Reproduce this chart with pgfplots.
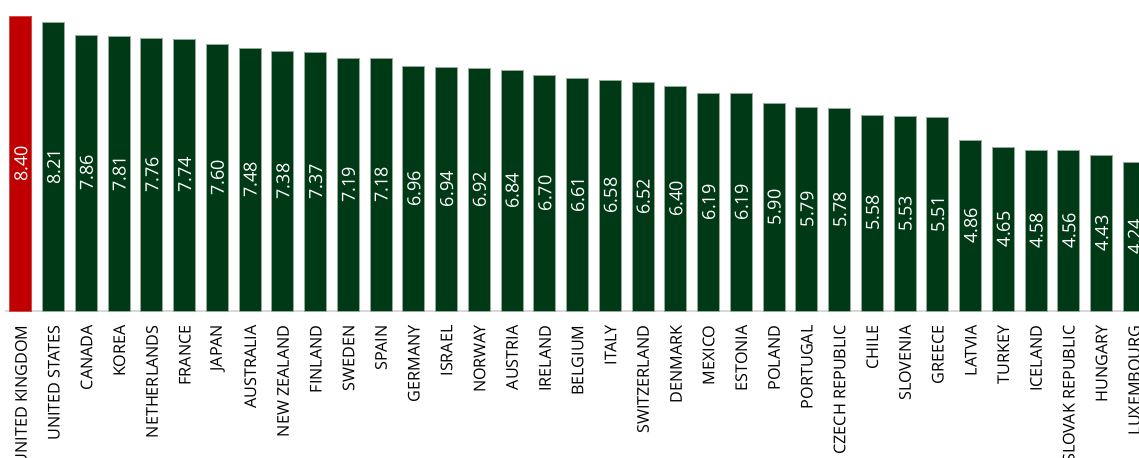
\documentclass[border=0pt]{standalone}
\usepackage{fontspec}
\setmainfont{Open Sans}
\usepackage{pgfplots}
\pgfplotsset{compat=1.18}
\definecolor{ukred}{RGB}{192,0,0}
\definecolor{dgreen}{RGB}{0,57,21}
\definecolor{barline}{RGB}{150,170,152}
\definecolor{axgray}{RGB}{217,217,217}
\begin{document}
\begin{tikzpicture}
\begin{axis}[
  at={(0pt,0pt)}, anchor=south west,
  scale only axis,
  width=573.1pt, height=155.5pt,
  xmin=-0.5, xmax=34.5, ymin=0, ymax=8.86,
  ybar, bar width=0.672, bar shift=0pt,
  axis x line=bottom, axis y line=none,
  axis line style={-},
  x axis line style={-, draw=axgray, line width=0.6pt},
  ytick=\empty,
  major tick length=0pt,
  xtick={0,...,34},
  xticklabels={UNITED KINGDOM,UNITED STATES,CANADA,KOREA,NETHERLANDS,FRANCE,JAPAN,AUSTRALIA,NEW ZEALAND,FINLAND,SWEDEN,SPAIN,GERMANY,ISRAEL,NORWAY,AUSTRIA,IRELAND,BELGIUM,ITALY,SWITZERLAND,DENMARK,MEXICO,ESTONIA,POLAND,PORTUGAL,CZECH REPUBLIC,CHILE,SLOVENIA,GREECE,LATVIA,TURKEY,ICELAND,SLOVAK REPUBLIC,HUNGARY,LUXEMBOURG},
  xticklabel style={rotate=90, anchor=east, inner sep=0pt, font=\fontsize{8.1}{9}\selectfont, text=black},
  xticklabel shift=7pt,
  nodes near coords,
  visualization depends on={rawy \as \rawy},
  nodes near coords style={yshift=-8.775pt*\rawy, rotate=90, anchor=center, text=white, inner sep=0pt,
    font=\fontsize{9}{10}\selectfont,
    /pgf/number format/.cd, fixed, fixed zerofill, precision=2, assume math mode=true},
]
\addplot[fill=ukred, draw=ukred!70!white, line width=0.5pt] coordinates {(0,8.40)};
\addplot[fill=dgreen, draw=barline, line width=0.5pt] coordinates {
(1,8.21) (2,7.86) (3,7.81) (4,7.76) (5,7.74) (6,7.60) (7,7.48) (8,7.38) (9,7.37)
(10,7.19) (11,7.18) (12,6.96) (13,6.94) (14,6.92) (15,6.84) (16,6.70) (17,6.61)
(18,6.58) (19,6.52) (20,6.40) (21,6.19) (22,6.19) (23,5.90) (24,5.79) (25,5.78)
(26,5.58) (27,5.53) (28,5.51) (29,4.86) (30,4.65) (31,4.58) (32,4.56) (33,4.43) (34,4.24)};
\end{axis}
\pgfresetboundingbox
\path[use as bounding box] (-2.3pt,-73pt) rectangle (567.2pt,155.5pt);
\end{tikzpicture}
\end{document}
